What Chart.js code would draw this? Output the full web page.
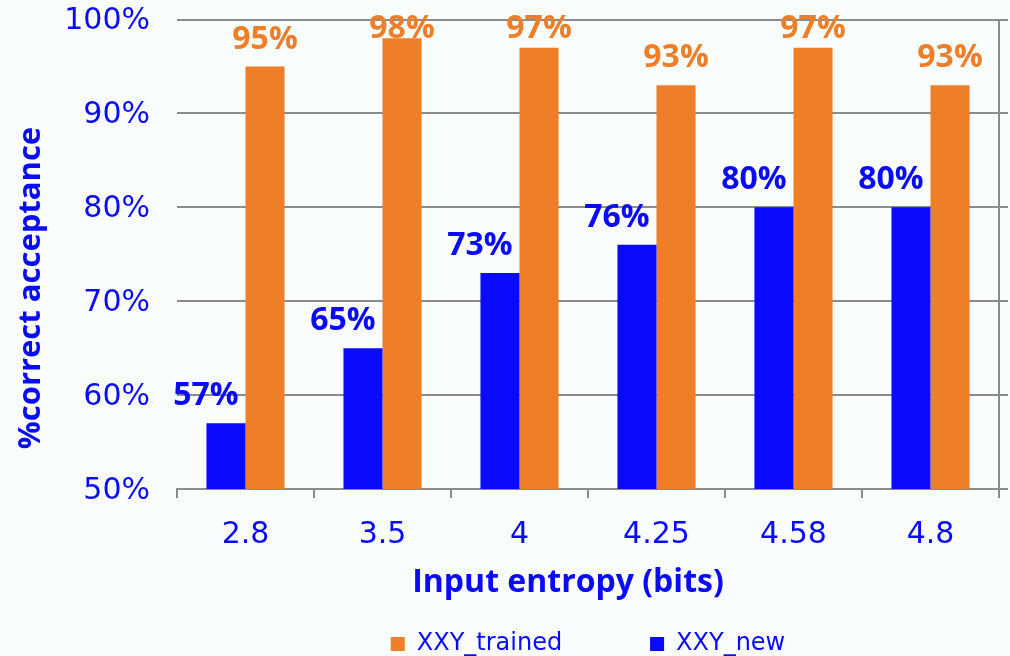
<!DOCTYPE html>
<html>
<head>
<meta charset="utf-8">
<script src="https://cdn.jsdelivr.net/npm/chart.js@4.4.1/dist/chart.umd.min.js"></script>
<style>
  html, body { margin: 0; padding: 0; background: #f9fdfe; }
  #wrap { width: 1010px; height: 656px; }
</style>
</head>
<body>
<div id="wrap"><canvas id="entropyChart"></canvas></div>
<script>
// values
var entropyLabels = ['2.8', '3.5', '4', '4.25', '4.58', '4.8'];
var newValues = [57, 65, 73, 76, 80, 80];
var trainedValues = [95, 98, 97, 93, 97, 93];
var yTicks = [50, 60, 70, 80, 90, 100];

var BLUE = '#0a0aff';
var ORANGE = '#ee7f28';
var GRID = '#8c8c8c';

// value labels above bars + axis titles
const barLabels = {
    id: 'barLabels',
    afterDatasetsDraw(chart) {
        const ctx = chart.ctx;
        const top = chart.chartArea.top;
        ctx.save();
        ctx.font = 'bold 32px "Open Sans"';
        ctx.textAlign = 'center';
        ctx.textBaseline = 'middle';
        chart.data.datasets.forEach(function (ds, i) {
            const meta = chart.getDatasetMeta(i);
            ctx.fillStyle = ds.labelColor;
            meta.data.forEach(function (bar, j) {
                // keep labels near the top from running off the canvas
                const y = Math.max(bar.y - 27, top + 9);
                ctx.fillText(ds.data[j] + '%', bar.x + ds.labelShift, y);
            });
        });

        ctx.fillStyle = BLUE;
        ctx.font = 'bold 32px "Open Sans"';
        ctx.fillText('Input entropy (bits)', 568, 583);
        ctx.font = 'bold 31px "Open Sans"';
        ctx.translate(31, 288);
        ctx.rotate(-Math.PI / 2);
        ctx.fillText('%correct acceptance', 0, 0);
        ctx.restore();
    }
};

function useTicks(scale) {
    scale.ticks = yTicks.map(function (v) { return { value: v }; });
}

const ctx = document.getElementById('entropyChart').getContext('2d');
new Chart(ctx, {
    type: 'bar',
    data: {
        labels: entropyLabels,
        datasets: [{
            label: 'XXY_new',
            data: newValues,
            backgroundColor: BLUE,
            labelColor: BLUE,
            labelShift: -20
        }, {
            label: 'XXY_trained',
            data: trainedValues,
            backgroundColor: ORANGE,
            labelColor: ORANGE,
            labelShift: 0
        }]
    },
    options: {
        responsive: true,
        maintainAspectRatio: false,
        animation: false,
        layout: { padding: { left: 0, right: 2, top: 3, bottom: -10 } },
        datasets: {
            bar: { barPercentage: 1, categoryPercentage: 0.57, borderWidth: 0 }
        },
        scales: {
            x: {
                grid: { drawOnChartArea: false, tickLength: 9, color: GRID, lineWidth: 2, offset: true },
                border: { color: GRID, width: 2 },
                ticks: { color: BLUE, padding: 19, font: { family: 'DejaVu Sans', size: 30 } },
                afterFit: function (scale) { scale.height = 139; }
            },
            y: {
                min: 50,
                max: 100,
                afterBuildTicks: useTicks,
                grid: { color: GRID, lineWidth: 2, tickLength: 27, tickColor: 'rgba(0,0,0,0)' },
                border: { display: false },
                ticks: {
                    color: BLUE,
                    padding: 0,
                    labelOffset: 2,
                    font: { family: 'DejaVu Sans', size: 30, lineHeight: 1.3 },
                    callback: function (v) { return v + '%'; }
                },
                afterFit: function (scale) { scale.width = 177; }
            },
            y2: {
                position: 'right',
                min: 50,
                max: 100,
                afterBuildTicks: useTicks,
                grid: { drawOnChartArea: false, tickLength: 9, color: GRID, lineWidth: 2 },
                border: { color: GRID, width: 2 },
                ticks: { display: false }
            }
        },
        plugins: {
            legend: {
                position: 'bottom',
                fullSize: false,
                reverse: true,
                labels: {
                    color: BLUE,
                    boxWidth: 14,
                    boxHeight: 14,
                    padding: 4,
                    font: { family: 'DejaVu Sans', size: 24 },
                    generateLabels: function (chart) {
                        const items = Chart.defaults.plugins.legend.labels.generateLabels(chart);
                        items[1].text += '           ';
                        return items;
                    }
                }
            },
            tooltip: { enabled: false }
        }
    },
    plugins: [barLabels]
});
</script>
</body>
</html>
